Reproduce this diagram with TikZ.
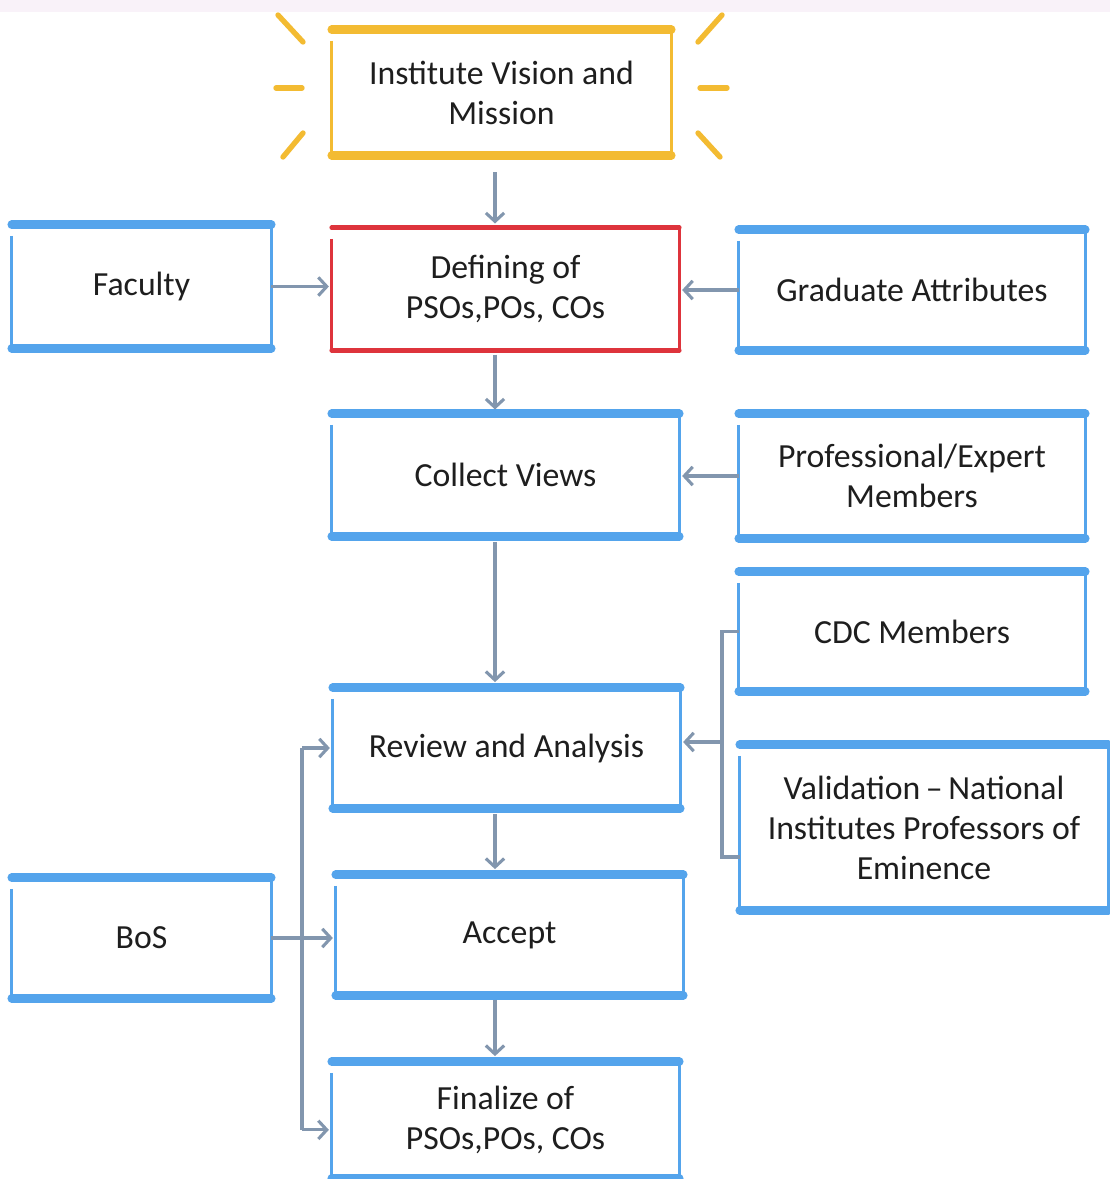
\documentclass[tikz,border=0pt]{standalone}
\usepackage{fontspec}
\setmainfont{Carlito}
\usetikzlibrary{arrows.meta}

\definecolor{boxblue}{RGB}{84,164,236}
\definecolor{boxred}{RGB}{222,52,60}
\definecolor{boxyellow}{RGB}{243,187,50}
\definecolor{linkgray}{RGB}{130,150,174}
\definecolor{txtgray}{RGB}{30,30,30}

\begin{document}
\begin{tikzpicture}[x=0.025cm, y=-0.025cm,
  box/.style = {minimum width=8.675cm, minimum height=3.05cm, align=center, inner sep=0pt,
                text=txtgray, font=\fontsize{24}{28.5}\selectfont},
  small/.style = {box, minimum width=6.475cm},
  link/.style = {draw=linkgray, line width=2.2pt, -{Straight Barb[length=6pt,width=13pt]}},
  bar/.style = {draw=linkgray, line width=2.2pt},
  ray/.style = {boxyellow, line width=3.8pt, line cap=round}]

\useasboundingbox (0,0) rectangle (1110,1179);
\fill[white] (0,0) rectangle (1110,1179);
\fill[violet!5] (0,0) rectangle (1110,12);

% boxes
\node[box, minimum width=8.475cm, minimum height=3.125cm] (vision) at (501.5,92.5) {Institute Vision and\\Mission};
\node[box] (define) at (505.5,289) {Defining of\\PSOs,POs, COs};
\node[small, minimum height=3.075cm] (faculty) at (141.5,286.5) {Faculty};
\node[box, minimum width=8.65cm, minimum height=3cm] (grad) at (912,290) {Graduate Attributes};
\node[box] (collect) at (505.5,475) {Collect Views};
\node[box, minimum width=8.65cm, minimum height=3.1cm] (prof) at (912,476) {Professional/Expert\\Members};
\node[box, minimum width=8.65cm, minimum height=2.975cm] (cdc) at (912,631.5) {CDC Members};
\node[box, minimum width=9.2cm, minimum height=4.125cm] (valid) at (924,827.5) {Validation\,--\,National\\Institutes Professors of\\Eminence};
\node[box, minimum height=3cm] (review) at (506.5,748) {Review and Analysis};
\node[small, minimum height=3cm] (bos) at (141.5,938) {BoS};
\node[box, minimum height=3cm] (accept) at (509.5,935) {Accept};
\node[box, minimum height=2.9cm] (final) at (505.5,1120) {Finalize of\\PSOs,POs, COs};

% sketchy outlines
\foreach \n/\c/\w in {vision/boxyellow/6pt, define/boxred/3.2pt, faculty/boxblue/6pt,
    grad/boxblue/6pt, collect/boxblue/6pt, prof/boxblue/6pt, cdc/boxblue/6pt,
    valid/boxblue/6pt, review/boxblue/6pt, bos/boxblue/6pt, accept/boxblue/6pt, final/boxblue/6pt} {
  \draw[\c, line width=2.5pt] ([yshift=-8pt]\n.north west) -- (\n.south west);
  \draw[\c, line width=2.5pt] (\n.north east) -- (\n.south east);
  \draw[\c, line width=\w, line cap=round] (\n.north west) -- (\n.north east);
  \draw[\c, line width=\w, line cap=round] (\n.south west) -- (\n.south east);
}

% sun rays
\draw[ray] (278,15) -- (303,42);
\draw[ray] (276,88) -- (302,88);
\draw[ray] (283,157) -- (303,133);
\draw[ray] (722,15) -- (698,42);
\draw[ray] (700,88) -- (727,88);
\draw[ray] (720,157) -- (698,133);

% connectors
\coordinate (spine) at (495,0);
\coordinate (fork) at (302,0);
\coordinate (merge) at (722,742);

\draw[link] ([yshift=-12pt]vision.south -| spine) -- ([yshift=3pt]define.north -| spine);
\draw[link] (faculty.east) -- ([xshift=-2pt]faculty.east -| define.west);
\draw[link] (grad.west) -- ([xshift=2pt]grad.west -| define.east);
\draw[link] ([yshift=-3pt]define.south -| spine) -- ([yshift=3pt]collect.north -| spine);
\draw[link] (prof.west) -- ([xshift=2pt]prof.west -| collect.east);
\draw[link] ([yshift=-4pt]collect.south -| spine) -- ([yshift=4pt]review.north -| spine);
\draw[bar] (cdc.west) -- (cdc.west -| merge) |- ([yshift=-21pt]valid.west);
\draw[link] (merge) -- ([xshift=2pt]merge -| review.east);
\draw[link] ([yshift=-4pt]review.south -| spine) -- ([yshift=4pt]accept.north -| spine);
\draw[link] ([yshift=-3pt]accept.south -| spine) -- ([yshift=4pt]final.north -| spine);
\draw[link] (bos.east) -- ([xshift=-2pt]bos.east -| accept.west);
\draw[bar] (fork |- review.west) -- ([yshift=-7pt]fork |- final.west);
\draw[link] (fork |- review.west) -- ([xshift=-2pt]review.west);
\draw[link] ([yshift=-7pt]fork |- final.west) -- ([xshift=-2pt,yshift=-7pt]final.west);

\end{tikzpicture}
\end{document}
